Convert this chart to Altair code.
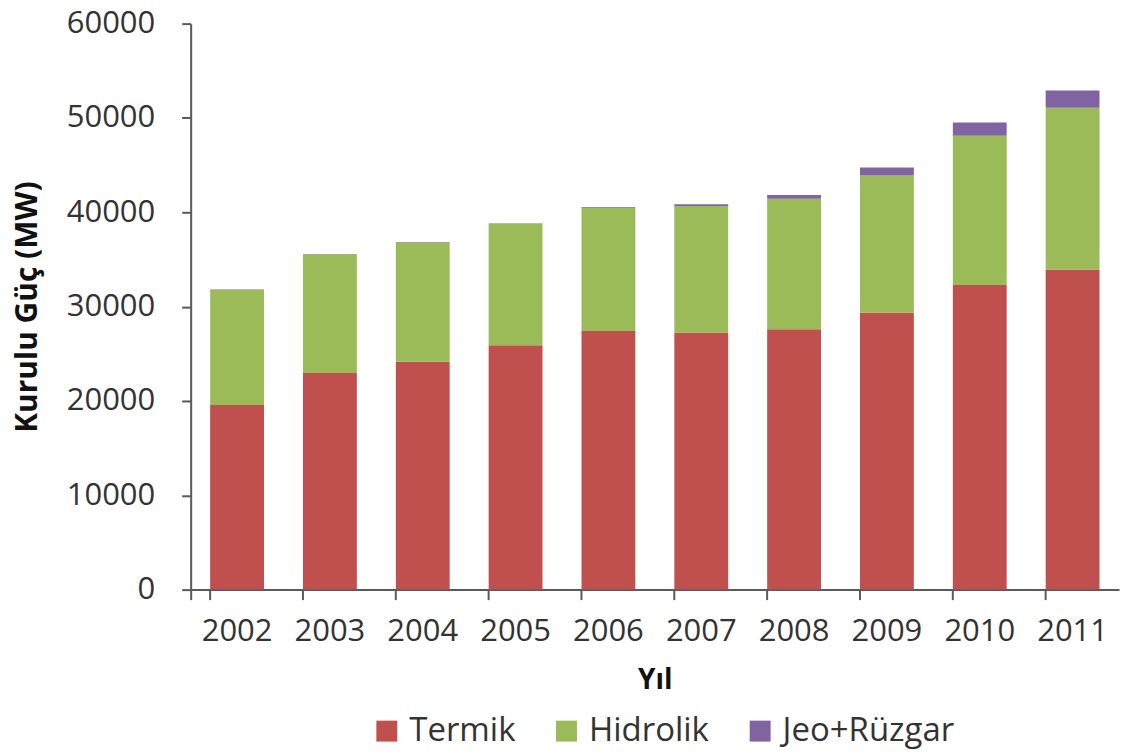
import altair as alt
import pandas as pd

# Installed power capacity by source (MW)
years = ["2002", "2003", "2004", "2005", "2006", "2007", "2008", "2009", "2010", "2011"]
termik = [19570, 22970, 24150, 25900, 27420, 27270, 27600, 29340, 32280, 33930]
hidrolik = [12240, 12580, 12650, 12910, 13060, 13400, 13830, 14550, 15830, 17140]
jeo_ruzgar = [40, 40, 40, 40, 80, 170, 390, 870, 1410, 1840]

sources = ["Termik", "Hidrolik", "Jeo+Rüzgar"]
colors = ["#C0504D", "#9BBB59", "#8064A2"]

rows = []
for i, y in enumerate(years):
    for k, (name, vals) in enumerate(zip(sources, [termik, hidrolik, jeo_ruzgar])):
        rows.append({"Yıl": y, "Kaynak": name, "MW": vals[i], "sira": k})
df = pd.DataFrame(rows)

FONT = "Open Sans"
TXT = "#333333"

chart = (
    alt.Chart(df)
    .mark_bar()
    .encode(
        x=alt.X(
            "Yıl:N",
            sort=years,
            scale=alt.Scale(paddingInner=0.42, paddingOuter=0.21),
            axis=alt.Axis(
                title="Yıl",
                labelAngle=0,
                bandPosition=0,
                tickExtra=True,
                tickSize=10,
                labelPadding=17,
                titlePadding=20,
                titleFontSize=28,
            ),
        ),
        y=alt.Y(
            "MW:Q",
            stack="zero",
            scale=alt.Scale(domain=[0, 60000], nice=False),
            axis=alt.Axis(
                title="Kurulu Güç (MW)",
                values=[0, 10000, 20000, 30000, 40000, 50000, 60000],
                format="d",
                tickSize=9,
                labelPadding=27,
                titlePadding=24,
                titleFontSize=30,
                grid=False,
            ),
        ),
        color=alt.Color(
            "Kaynak:N",
            scale=alt.Scale(domain=sources, range=colors),
            legend=alt.Legend(
                title=None,
                orient="none",
                legendX=180,
                legendY=692,
                direction="horizontal",
                symbolType="square",
                symbolSize=440,
                symbolStrokeWidth=0,
                labelFontSize=33,
                labelColor=TXT,
                labelFont=FONT,
                labelLimit=0,
                columnPadding=34,
                labelOffset=6,
            ),
        ),
        order=alt.Order("sira:Q", sort="ascending"),
    )
    .properties(width=930, height=567, padding={"left": 12, "top": 7, "right": 4, "bottom": 4})
    .configure_view(stroke=None)
    .configure_axis(
        labelFont=FONT,
        titleFont=FONT,
        labelFontSize=31,
        labelColor=TXT,
        titleColor="#111111",
        titleFontWeight="bold",
        domainColor="#5a5a5a",
        tickColor="#5a5a5a",
        domainWidth=2,
        tickWidth=2,
    )
    .configure_legend(labelFont=FONT)
)

chart.save("out.html", embed_options={"renderer": "svg", "actions": False})
